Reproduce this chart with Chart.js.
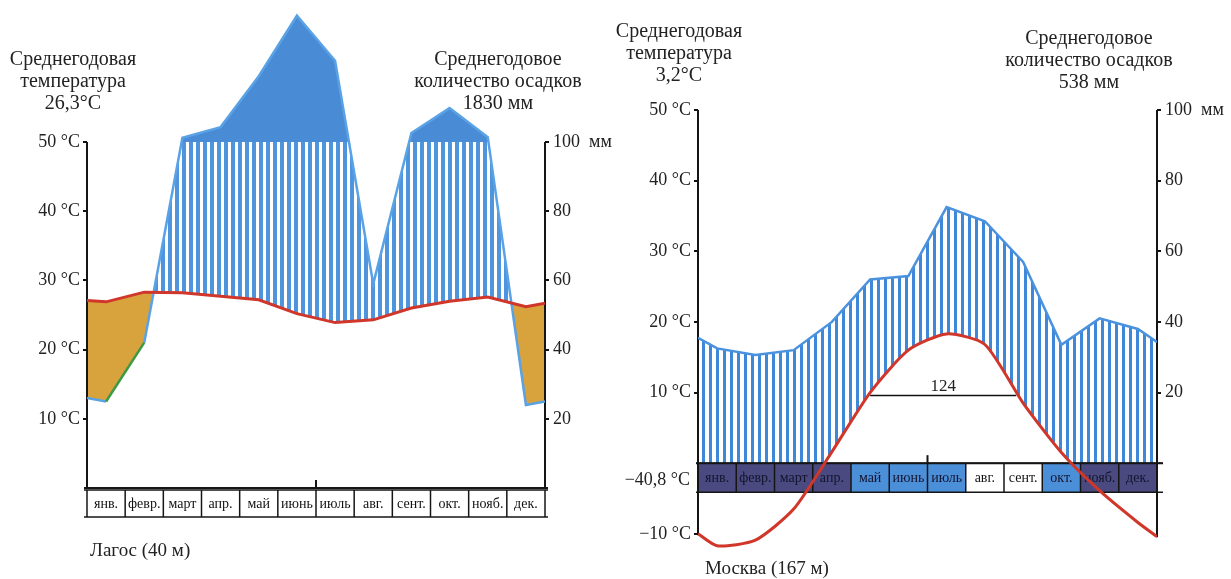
<!DOCTYPE html>
<html><head><meta charset="utf-8">
<script src="https://cdn.jsdelivr.net/npm/chart.js@4.4.1/dist/chart.umd.min.js"></script>
<style>
html,body{margin:0;padding:0;background:#fff;}
#wrap{position:relative;width:1231px;height:579px;overflow:hidden;font-family:"Liberation Serif",serif;color:#222;}
canvas{position:absolute;top:0;}
.t{position:absolute;text-align:center;font-size:20px;line-height:22px;white-space:nowrap;transform:translateX(-50%);}
.s{position:absolute;font-size:19px;line-height:22px;white-space:nowrap;}
</style></head><body>
<div id="wrap">
<canvas id="lagos" width="620" height="579" style="left:0px"></canvas>
<canvas id="moscow" width="641" height="579" style="left:590px"></canvas>
<div class="t" style="left:73px;top:47px">Среднегодовая<br>температура<br>26,3°С</div>
<div class="t" style="left:498px;top:47px">Среднегодовое<br>количество осадков<br>1830 мм</div>
<div class="s" style="left:90px;top:539px">Лагос (40 м)</div>
<div class="t" style="left:679px;top:19px">Среднегодовая<br>температура<br>3,2°С</div>
<div class="t" style="left:1089px;top:26px">Среднегодовое<br>количество осадков<br>538 мм</div>
<div class="s" style="left:705px;top:557px">Москва (167 м)</div>
</div>
<script>
// ---------- data ----------
const months = ['янв.','февр.','март','апр.','май','июнь','июль','авг.','сент.','окт.','нояб.','дек.'];
const lagosTempTicks = [10, 20, 30, 40, 50];
const moscowTempTicks = [-10, 10, 20, 30, 40, 50];
const precipTicks = [20, 40, 60, 80, 100];

// Lagos: monthly mean temperature (°C) and precipitation (mm); edges = values at year start / end
const lagosTemp = [26.9, 28.3, 28.2, 27.7, 27.2, 25.2, 23.9, 24.3, 26.0, 27.0, 27.6, 26.2];
const lagosTempEdges = [27.1, 26.7];
const lagosPrecip = [25, 42, 112, 143, 290, 465, 335, 59, 126, 198, 114, 24];
const lagosPrecipEdges = [26, 25];

// Moscow
const moscowTemp = [-11.7, -10.9, -6.5, 1.6, 10.0, 16.0, 18.3, 16.8, 8.5, 1.5, -3.9, -8.4];
const moscowTempEdges = [-10.0, -10.4];
const moscowPrecip = [32.5, 30.6, 32, 40, 52, 53, 72.5, 68.5, 57, 33.5, 41, 38];
const moscowPrecipEdges = [35.5, 34.3];
const moscowAbsMin = '−40,8 °С';
const moscowPeriod = '124';

// ---------- helpers ----------
const SERIF = '"Liberation Serif", "Times New Roman", serif';
const mmHalf = mm => mm / 2;                                    // 20 mm = 10 °C
const mmScaled = mm => mm <= 100 ? mm / 2 : 50 + (mm - 100) / 20; // above 100 mm: 1/10 scale
function series(vals, edges, f) {
  const out = [{x: 0, y: f(edges[0])}];
  vals.forEach((v, i) => out.push({x: i + 0.5, y: f(v)}));
  out.push({x: 12, y: f(edges[1])});
  return out;
}
function stripes(period, bar, color) {
  const c = document.createElement('canvas');
  c.width = period; c.height = 4;
  const g = c.getContext('2d');
  g.fillStyle = '#fff'; g.fillRect(0, 0, period, 4);
  g.fillStyle = color; g.fillRect(0, 0, bar, 4);
  return g.createPattern(c, 'repeat');
}
function crossings(vals, edges, level) {
  const p = series(vals, edges, v => v);
  let up = null, down = null;
  for (let i = 0; i < p.length - 1; i++) {
    const a = p[i], b = p[i + 1];
    if (up === null && a.y < level && b.y >= level) up = a.x + (level - a.y) / (b.y - a.y) * (b.x - a.x);
    if (up !== null && down === null && a.y >= level && b.y < level) down = a.x + (a.y - level) / (a.y - b.y) * (b.x - a.x);
  }
  return [up, down];
}
function seg(ctx, x1, y1, x2, y2) { ctx.beginPath(); ctx.moveTo(x1, y1); ctx.lineTo(x2, y2); ctx.stroke(); }

function framePlugin(cfg) {
  return {
    id: 'frame',
    beforeDatasetsDraw(chart) {
      const {ctx, chartArea: a, scales: {x, y}} = chart;
      const y0 = y.getPixelForValue(0);
      const rt = y.getPixelForValue(cfg.rowTop), rb = y.getPixelForValue(cfg.rowBottom);
      ctx.save();
      for (let i = 0; i < 12; i++) {
        const xl = x.getPixelForValue(i), xr = x.getPixelForValue(i + 1);
        ctx.fillStyle = cfg.boxColors[i];
        ctx.fillRect(xl, rt, xr - xl, rb - rt);
      }
      ctx.strokeStyle = '#151515';
      ctx.lineWidth = 1.5;
      for (let i = 0; i <= 12; i++) { const xx = x.getPixelForValue(i); seg(ctx, xx, rt, xx, rb); }
      seg(ctx, a.left - cfg.extL, rt, a.right + cfg.extR, rt);
      seg(ctx, a.left - cfg.extL, rb, a.right + cfg.extR, rb);
      ctx.font = '14px ' + SERIF;
      ctx.textAlign = 'center'; ctx.textBaseline = 'middle';
      for (let i = 0; i < 12; i++) {
        ctx.fillStyle = cfg.textColors[i];
        ctx.fillText(months[i], x.getPixelForValue(i + 0.5), (rt + rb) / 2 + 1);
      }
      ctx.lineWidth = 2;
      seg(ctx, a.left, y.getPixelForValue(50), a.left, y.getPixelForValue(cfg.leftBottom));
      seg(ctx, a.right, y.getPixelForValue(50), a.right, y.getPixelForValue(cfg.rightBottom));
      seg(ctx, a.left - cfg.extL, y0, a.right + cfg.extR, y0);
      const xm = x.getPixelForValue(6);
      seg(ctx, xm, y0 - 8, xm, y0);
      ctx.restore();
      if (cfg.extra) cfg.extra(chart);
    }
  };
}

function baseOptions(o) {
  const fit = w => s => { s.width = w; s.paddingTop = 0; s.paddingBottom = 0; };
  return {
    responsive: false, animation: false,
    layout: {padding: o.padding},
    plugins: {legend: {display: false}, tooltip: {enabled: false}, filler: {drawTime: 'beforeDatasetsDraw'}},
    elements: {point: {radius: 0}},
    scales: {
      x: {type: 'linear', min: 0, max: 12, display: false},
      y: {
        type: 'linear', position: 'left', min: o.min, max: o.max,
        afterFit: fit(o.leftW),
        afterBuildTicks: s => { s.ticks = o.tempTicks.map(v => ({value: v})); },
        ticks: {font: {family: SERIF, size: 18}, color: '#222', padding: 3,
          callback: v => (v < 0 ? '−' + Math.abs(v) : v) + ' °С'},
        grid: {drawOnChartArea: false, drawTicks: true, tickLength: 4, color: '#111', lineWidth: 2},
        border: {display: false}
      },
      y2: {
        type: 'linear', position: 'right', min: o.min * 2, max: o.max * 2,
        afterFit: fit(o.rightW),
        afterBuildTicks: s => { s.ticks = precipTicks.map(v => ({value: v})); },
        ticks: {font: {family: SERIF, size: 18}, color: '#222', padding: 4,
          callback: v => v === 100 ? '100  мм' : String(v)},
        grid: {drawOnChartArea: false, drawTicks: true, tickLength: 4, color: '#111', lineWidth: 2},
        border: {display: false}
      }
    }
  };
}

// ---------- Lagos ----------
const lagosHatch = stripes(7, 4, '#4f95de');
new Chart(document.getElementById('lagos'), {
  type: 'line',
  data: {
    datasets: [
      {label: 'temp', data: series(lagosTemp, lagosTempEdges, v => v), borderColor: '#d0362a', borderWidth: 3, tension: 0, fill: false},
      {label: 'precip', data: series(lagosPrecip, lagosPrecipEdges, mmScaled), borderColor: '#5aa2e6', borderWidth: 2.5, tension: 0,
        segment: {borderColor: c => c.p0DataIndex === 1 ? '#3c9a44' : undefined},
        fill: {target: {value: 50}, above: '#4a8bd5', below: 'rgba(0,0,0,0)'}},
      {label: 'humid', data: series(lagosPrecip, lagosPrecipEdges, mmScaled), borderWidth: 0, borderColor: 'rgba(0,0,0,0)',
        fill: {target: 0, above: lagosHatch, below: '#d8a23c'}}
    ]
  },
  options: baseOptions({padding: {top: 4, bottom: 91, left: 0, right: 0}, min: 0, max: 484 * 50 / 346, leftW: 87, rightW: 75, tempTicks: lagosTempTicks}),
  plugins: [framePlugin({rowTop: -0.3, rowBottom: -4.2, leftBottom: 0, rightBottom: 0, extL: 3, extR: 3,
    boxColors: Array(12).fill('#ffffff'), textColors: Array(12).fill('#111')})]
});

// ---------- Moscow ----------
const moscowHatch = stripes(7, 3, '#3f87d8');
const dark = '#4a4a80', light = '#4b8fd8', white = '#ffffff';
const mBox = [dark, dark, dark, dark, light, light, light, white, white, light, dark, dark];
const mTxt = mBox.map(c => c === white ? '#111' : '#14142e');
new Chart(document.getElementById('moscow'), {
  type: 'line',
  data: {
    datasets: [
      {label: 'temp', data: series(moscowTemp, moscowTempEdges, v => v), borderColor: '#d0362a', borderWidth: 3,
        tension: 0.22,
        fill: {target: {value: 0}, above: '#ffffff', below: 'rgba(0,0,0,0)'}},
      {label: 'precip', data: series(moscowPrecip, moscowPrecipEdges, mmHalf), borderColor: '#4b92de', borderWidth: 2.5, tension: 0,
        fill: {target: {value: 0}, above: moscowHatch, below: 'rgba(0,0,0,0)'}}
    ]
  },
  options: baseOptions({padding: {top: 110, bottom: 24, left: 0, right: 0}, min: -13, max: 50, leftW: 108, rightW: 74, tempTicks: moscowTempTicks}),
  plugins: [framePlugin({rowTop: 0, rowBottom: -4.1, leftBottom: -10.2, rightBottom: -10.5, extL: 2, extR: 6,
    boxColors: mBox, textColors: mTxt,
    extra(chart) {
      const {ctx, chartArea: a, scales: {x, y}} = chart;
      const [c1, c2] = crossings(moscowTemp, moscowTempEdges, 10);
      const px1 = x.getPixelForValue(c1), px2 = x.getPixelForValue(c2), py = y.getPixelForValue(10) + 3;
      ctx.save();
      ctx.strokeStyle = '#111'; ctx.lineWidth = 1.5;
      seg(ctx, px1, py, px2, py);
      ctx.fillStyle = '#222'; ctx.font = '17px ' + SERIF;
      ctx.textAlign = 'center'; ctx.textBaseline = 'alphabetic';
      ctx.fillText(moscowPeriod, (px1 + px2) / 2, py - 5);
      ctx.font = '18px ' + SERIF; ctx.textAlign = 'right'; ctx.textBaseline = 'middle';
      ctx.fillText(moscowAbsMin, a.left - 8, y.getPixelForValue(-2.4));
      ctx.restore();
    }
  })]
});
</script>
</body></html>
